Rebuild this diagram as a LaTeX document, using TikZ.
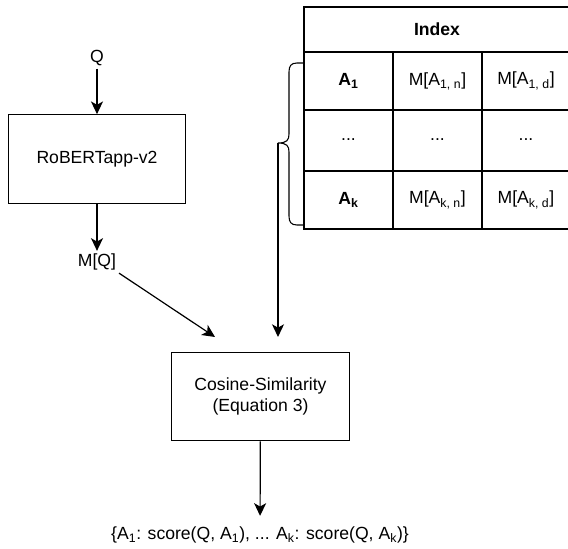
\documentclass[tikz,border=0pt]{standalone}
\usepackage{fontspec}
\setmainfont{Liberation Sans}
\usepackage{tikz}
\usetikzlibrary{arrows.meta}
\tikzstyle{TextFlow}=[inner sep=2pt,font=\fontsize{13.2}{15.75}\selectfont,align=center]
\tikzstyle{BoxFlow}=[TextFlow,draw,line width=0.8pt,minimum width=133pt,minimum height=66.5pt]
\tikzstyle{ArrowFlow}=[line width=0.9pt,-{Stealth[length=9.5pt,width=9pt,inset=2.5pt]}]
\tikzstyle{GridLine}=[line width=0.8pt]

\begin{document}
\begin{tikzpicture}[x=0.75pt,y=-0.75pt]
        \useasboundingbox (0,0) rectangle (568,549);
        % left column
        \node[TextFlow](Q)at(97,58){Q};
        \node[BoxFlow](Rob)at(97,159){RoBERTapp-v2};
        \node[TextFlow](MQ)at(97,262){M[Q]};
        \node[BoxFlow](Cos)at(260.5,396.5){Cosine-Similarity\\(Equation 3)};
        \node[TextFlow](Out)at(260,535){\{A\textsubscript{1}: score(Q, A\textsubscript{1}), ... A\textsubscript{k}: score(Q, A\textsubscript{k})\}};
        % index table
        \draw[GridLine](304,7)rectangle(572,229);
        \draw[GridLine](304,52)--(572,52);
        \draw[GridLine](304,110)--(572,110);
        \draw[GridLine](304,171)--(572,171);
        \draw[GridLine](393,52)--(393,229);
        \draw[GridLine](482,52)--(482,229);
        \node[TextFlow](Idx)at(437,29.5){\textbf{Index}};
        \node[TextFlow](AOne)at(348.5,81){\textbf{A\textsubscript{1}}};
        \node[TextFlow](AOneN)at(437.5,81){M[A\textsubscript{1, n}]};
        \node[TextFlow](AOneD)at(526,81){M[A\textsubscript{1, d}]};
        \node[TextFlow](DotA)at(348.5,140){...};
        \node[TextFlow](DotB)at(437.5,140){...};
        \node[TextFlow](DotC)at(526,140){...};
        \node[TextFlow](AK)at(348.5,200){\textbf{A\textsubscript{k}}};
        \node[TextFlow](AKN)at(437.5,200){M[A\textsubscript{k, n}]};
        \node[TextFlow](AKD)at(526,200){M[A\textsubscript{k, d}]};
        % brace
        \coordinate(BraceTip)at(278,143);
        \draw[line width=0.8pt](304,63)--(297,63)..controls(291,63)and(289,66)..(289,72)
            --(289,134)..controls(289,140)and(287,143)..(BraceTip)
            ..controls(287,143)and(289,146)..(289,152)--(289,216)
            ..controls(289,222)and(291,225)..(297,225)--(304,225);
        \coordinate(CosIn)at(215,337);
        % arrows
        \draw[ArrowFlow](Q)--(Rob);
        \draw[ArrowFlow](Rob)--(MQ);
        \draw[ArrowFlow](MQ.south east)--(CosIn);
        \draw[ArrowFlow,shorten >=11pt](BraceTip)--(BraceTip|-Cos.north);
        \draw[ArrowFlow,shorten >=6pt](Cos)--(Out);
    \end{tikzpicture}
\end{document}
